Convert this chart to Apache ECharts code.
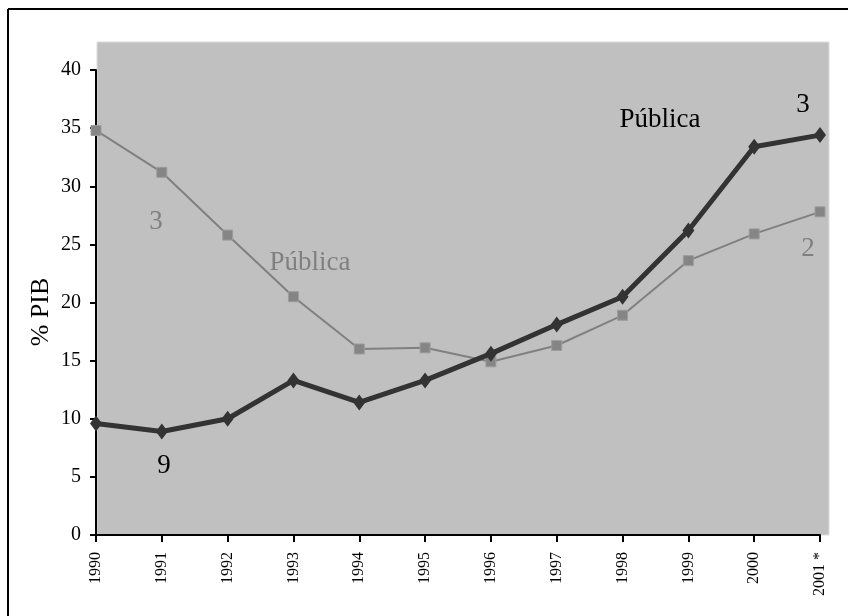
<!DOCTYPE html>
<html>
<head>
<meta charset="utf-8">
<script src="https://cdn.jsdelivr.net/npm/echarts@6/dist/echarts.min.js"></script>
<style>
  html, body { margin: 0; padding: 0; background: #ffffff; }
  #chart { width: 848px; height: 616px; }
</style>
</head>
<body>
<div id="chart"></div>
<script>
// Years on the horizontal axis
const years = ['1990', '1991', '1992', '1993', '1994', '1995', '1996', '1997', '1998', '1999', '2000', '2001 *'];

// Dark series (% of GDP)
const darkSeries = [9.6, 8.9, 10.0, 13.3, 11.4, 13.3, 15.6, 18.1, 20.5, 26.2, 33.4, 34.4];

// Light series (% of GDP)
const lightSeries = [34.8, 31.2, 25.8, 20.5, 16.0, 16.1, 14.9, 16.3, 18.9, 23.6, 25.9, 27.8];

// Value axis range
const yMin = 0, yMax = 40, yStep = 5;

const serif = '"Liberation Serif", "DejaVu Serif", serif';

// free-standing text placed on the plot (centre point, colour)
function note(text, cx, cy, color) {
  return {
    type: 'text', z: 10, x: cx, y: cy,
    style: { text: text, font: '27px ' + serif, fill: color, align: 'center', verticalAlign: 'middle' }
  };
}

const chart = echarts.init(document.getElementById('chart'), null, { renderer: 'canvas' });

chart.setOption({
  animation: false,
  backgroundColor: '#ffffff',
  grid: { left: 96, right: 28, top: 70, bottom: 81, containLabel: false },
  graphic: [
    // frame lines on top and left
    { type: 'line', z: 10, shape: { x1: 8, y1: 9, x2: 848, y2: 9 }, style: { stroke: '#000', lineWidth: 2 } },
    { type: 'line', z: 10, shape: { x1: 8, y1: 9, x2: 8, y2: 616 }, style: { stroke: '#000', lineWidth: 2 } },
    // plot area fill
    { type: 'rect', z: -10, shape: { x: 97, y: 42, width: 732, height: 493 },
      style: { fill: '#c0c0c0', stroke: '#dcdcdc', lineWidth: 1 } },
    // vertical axis title
    { type: 'text', z: 10, x: 41, y: 312, rotation: Math.PI / 2,
      style: { text: '% PIB', font: '26px ' + serif, fill: '#000', align: 'center', verticalAlign: 'middle' } },
    // annotations
    note('3', 156, 222, '#808080'),
    note('Pública', 310, 263, '#808080'),
    note('Pública', 660, 120, '#000000'),
    note('3', 803, 105, '#000000'),
    note('2', 808, 249, '#808080'),
    note('9', 164, 466, '#000000')
  ],
  xAxis: {
    type: 'category',
    data: years,
    boundaryGap: false,
    axisLine: { show: true, lineStyle: { color: '#000', width: 2 } },
    axisTick: { show: true, inside: false, length: 7, lineStyle: { color: '#000', width: 2 } },
    axisLabel: {
      rotate: 90, margin: 17, color: '#000',
      fontFamily: serif, fontSize: 16, interval: 0
    },
    splitLine: { show: false }
  },
  yAxis: {
    type: 'value',
    min: yMin, max: yMax, interval: yStep,
    axisLine: { show: true, lineStyle: { color: '#000', width: 2 } },
    axisTick: { show: true, inside: false, length: 6, lineStyle: { color: '#000', width: 2 } },
    axisLabel: { color: '#000', fontFamily: serif, fontSize: 20, margin: 15 },
    splitLine: { show: false }
  },
  series: [
    {
      name: 'light',
      type: 'line',
      data: lightSeries,
      symbol: 'rect',
      symbolSize: 10,
      lineStyle: { color: '#808080', width: 2 },
      itemStyle: { color: '#858585', borderColor: '#9c9c9c', borderWidth: 1 },
      z: 3
    },
    {
      name: 'dark',
      type: 'line',
      data: darkSeries,
      symbol: 'diamond',
      symbolSize: [12, 16],
      lineStyle: { color: '#333333', width: 5 },
      itemStyle: { color: '#333333' },
      z: 4
    }
  ]
});
</script>
</body>
</html>
